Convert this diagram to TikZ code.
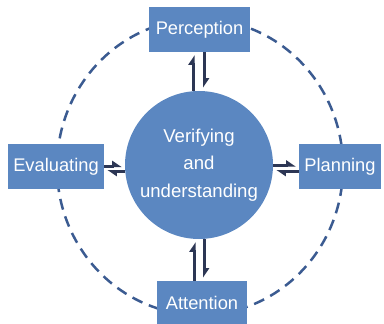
\documentclass[tikz,border=0pt]{standalone}
\usepackage{fontspec}
\setmainfont{Liberation Sans}
\usetikzlibrary{arrows.meta}
\definecolor{boxblue}{HTML}{5B87C1}
\definecolor{dashnavy}{HTML}{3B5B91}
\definecolor{arrownavy}{HTML}{2C3654}
\begin{document}
\begin{tikzpicture}[x=1pt,y=-1pt,
  stagebox/.style={draw=none,fill=boxblue,text=white,inner sep=0pt,
    font=\fontsize{18.3}{22}\selectfont},
  centre/.style={circle,draw=none,fill=boxblue,text=white,inner sep=0pt,
    minimum size=148pt,align=center,font=\fontsize{18.6}{27.5}\selectfont},
  ring/.style={draw=dashnavy,line width=2.5pt,dash pattern=on 11pt off 7pt},
  harp/.style={draw=arrownavy,line width=3pt,
    -{Triangle[left,length=8pt,width=10pt]},shorten >=3pt}
]
\useasboundingbox (0,0) rectangle (384,324);
\draw[ring] (200,167) ellipse [x radius=143, y radius=148];
\node[centre] (V) at (199,165) {Verifying\\and\\understanding};
\node[stagebox,minimum width=101pt,minimum height=45pt] (P) at (199.5,29.5) {Perception};
\node[stagebox,minimum width=96pt,minimum height=45pt] (E) at (56,166.5) {Evaluating};
\node[stagebox,minimum width=82pt,minimum height=45pt] (L) at (340,166.5) {Planning};
\node[stagebox,minimum width=90pt,minimum height=43pt] (A) at (202,302.5) {Attention};
% top
\draw[harp] ([xshift=-5.5pt]V.north) -- ([xshift=-5.5pt]V.north |- P.south);
\draw[harp] ([xshift=5pt]V.north |- P.south) -- ([xshift=5pt]V.north);
% left
\draw[harp] ([yshift=-1pt]V.west -| E.east) -- ([yshift=-1pt]V.west);
\draw[harp] ([yshift=-6pt]V.west) -- ([yshift=-6pt]V.west -| E.east);
% right
\draw[harp] ([yshift=-0.5pt]V.east) -- ([yshift=-0.5pt]V.east -| L.west);
\draw[harp] ([yshift=-6pt]V.east -| L.west) -- ([yshift=-6pt]V.east);
% bottom
\draw[harp] ([xshift=-4.5pt]V.south |- A.north) -- ([xshift=-4.5pt]V.south);
\draw[harp] ([xshift=5pt]V.south) -- ([xshift=5pt]V.south |- A.north);
\end{tikzpicture}
\end{document}
